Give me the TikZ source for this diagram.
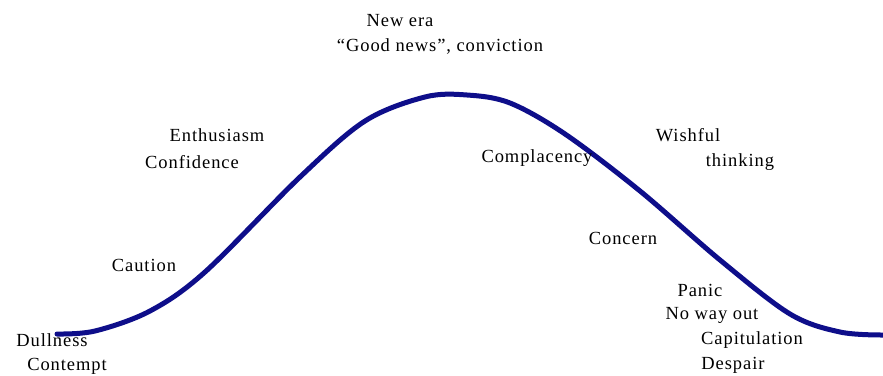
\documentclass[tikz,border=0pt]{standalone}
\usepackage{fontspec}
\setmainfont[LetterSpace=5]{Liberation Serif}
\usetikzlibrary{positioning}
\definecolor{CurveNavy}{HTML}{0E0E8A}

\begin{document}
\begin{tikzpicture}[
  x=1pt, y=-1pt,
  phase/.style={inner sep=0pt, font=\fontsize{18.5}{21}\selectfont},
  cycle/.style={draw=CurveNavy, line width=5pt, line cap=round, line join=round},
]
\useasboundingbox (0,0) rectangle (883,375);
\draw[cycle] plot[smooth, tension=0.55] coordinates {
  (57,334) (95,331) (150,311) (205,272) (300,177) (365,121)
  (425,97) (467,95) (510,103) (565,134) (640,191) (720,260)
  (790,314) (840,332) (883,335)};
% rising side
\node[phase] (dull) at (52,340) {Dullness};
\node[phase] (contempt) at (67,366) {Contempt};
\node[phase] (caution) at (144,265) {Caution};
\node[phase] (enthus) at (217,135) {Enthusiasm};
\node[phase] (confid) at (192,162) {Confidence};
% top
\node[phase] (newera) at (400,21) {New era};
\node[phase] (goodnews) at (440,47) {``Good news'', conviction};
% falling side
\node[phase] (complac) at (537,158) {Complacency};
\node[phase] (wishful) at (688,135) {Wishful};
\node[phase] (thinking) at (740,162) {thinking};
\node[phase] (concern) at (623,238) {Concern};
\node[phase] (panic) at (700,290) {Panic};
\node[phase] (noway) at (712,315) {No way out};
\node[phase] (capit) at (752,340) {Capitulation};
\node[phase] (despair) at (733,365) {Despair};
\end{tikzpicture}
\end{document}
